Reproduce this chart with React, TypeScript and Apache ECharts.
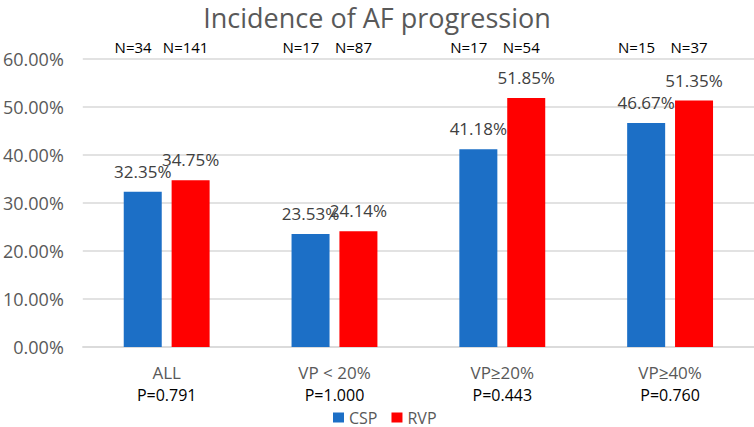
import React, { useEffect, useRef } from "react";
import * as echarts from "echarts";

const categories = ["ALL", "VP < 20%", "VP≥20%", "VP≥40%"];
const pValues = ["P=0.791", "P=1.000", "P=0.443", "P=0.760"];
const cspValues = [32.35, 23.53, 41.18, 46.67];
const rvpValues = [34.75, 24.14, 51.85, 51.35];
const nCSP = [34, 17, 17, 15];
const nRVP = [141, 87, 54, 37];
const yTicks = [0, 10, 20, 30, 40, 50, 60];

const FONT = "'Open Sans', 'Noto Sans', sans-serif";

export default function App() {
  const ref = useRef<HTMLDivElement>(null);
  useEffect(() => {
    if (!ref.current) return;
    const chart = echarts.init(ref.current, undefined, { renderer: "svg" });
    const labelStyle = {
      show: true,
      position: "top" as const,
      distance: 12,
      fontSize: 17,
      fontFamily: FONT,
      color: "#404040",
      formatter: (p: any) => `${Number(p.value).toFixed(2)}%`,
    };
    chart.setOption({
      animation: false,
      backgroundColor: "#ffffff",
      textStyle: { fontFamily: FONT },
      title: {
        text: "Incidence of AF progression",
        left: "center",
        top: 2,
        padding: [0, 0, 0, 14],
        textStyle: { fontSize: 27, lineHeight: 30, fontWeight: "normal", color: "#595959", fontFamily: FONT },
      },
      legend: {
        data: ["CSP", "RVP"],
        left: 333,
        top: 409,
        padding: 0,
        icon: "rect",
        itemWidth: 11,
        itemHeight: 10,
        itemGap: 14,
        textStyle: { fontSize: 16, lineHeight: 17, color: "#595959", fontFamily: FONT },
      },
      grid: { left: 79, right: 0, top: 59, bottom: 80 },
      xAxis: {
        type: "category",
        data: categories,
        axisTick: { show: false },
        axisLine: { lineStyle: { color: "#d9d9d9", width: 1.5 } },
        axisLabel: {
          margin: 14,
          formatter: (v: string, i: number) => `{a|${v}}\n{b|${pValues[i]}}`,
          rich: {
            a: { fontSize: 17, color: "#595959", lineHeight: 23, fontFamily: FONT },
            b: { fontSize: 16, color: "#000000", lineHeight: 22, fontFamily: FONT },
          },
        },
      },
      yAxis: {
        type: "value",
        min: yTicks[0],
        max: yTicks[yTicks.length - 1],
        interval: yTicks[1] - yTicks[0],
        axisLine: { show: false },
        axisTick: { show: false },
        splitLine: { lineStyle: { color: "#d9d9d9", width: 1.5 } },
        axisLabel: {
          margin: 19,
          fontSize: 18,
          color: "#595959",
          fontFamily: FONT,
          formatter: (v: number) => `${v.toFixed(2)}%`,
        },
      },
      series: [
        {
          name: "CSP",
          type: "bar",
          data: cspValues,
          barWidth: 38,
          barGap: "26%",
          itemStyle: { color: "#1C6FC6" },
          label: labelStyle,
        },
        {
          name: "RVP",
          type: "bar",
          data: rvpValues,
          barWidth: 38,
          barGap: "26%",
          itemStyle: { color: "#FF0000" },
          label: labelStyle,
        },
        {
          name: "N",
          type: "custom",
          silent: true,
          data: categories.map((_, i) => [i, yTicks[yTicks.length - 1]]),
          encode: { x: 0, y: 1 },
          renderItem: (params: any, api: any) => {
            const idx = api.value(0);
            const pt = api.coord([idx, api.value(1)]);
            const band = api.size([1, 0])[0];
            const mk = (dx: number, txt: string) => ({
              type: "text",
              x: pt[0] + dx,
              y: pt[1] - 12,
              style: {
                text: txt,
                fill: "#000000",
                fontSize: 15,
                fontFamily: FONT,
                textAlign: "center",
                textVerticalAlign: "middle",
              },
            });
            return {
              type: "group",
              children: [mk(-band * 0.2, `N=${nCSP[idx]}`), mk(band * 0.113, `N=${nRVP[idx]}`)],
            };
          },
        },
      ],
    });
    return () => chart.dispose();
  }, []);
  return (
    <div
      ref={ref}
      style={{ position: "fixed", left: 0, top: 0, width: 754, height: 427, background: "#fff" }}
    />
  );
}
